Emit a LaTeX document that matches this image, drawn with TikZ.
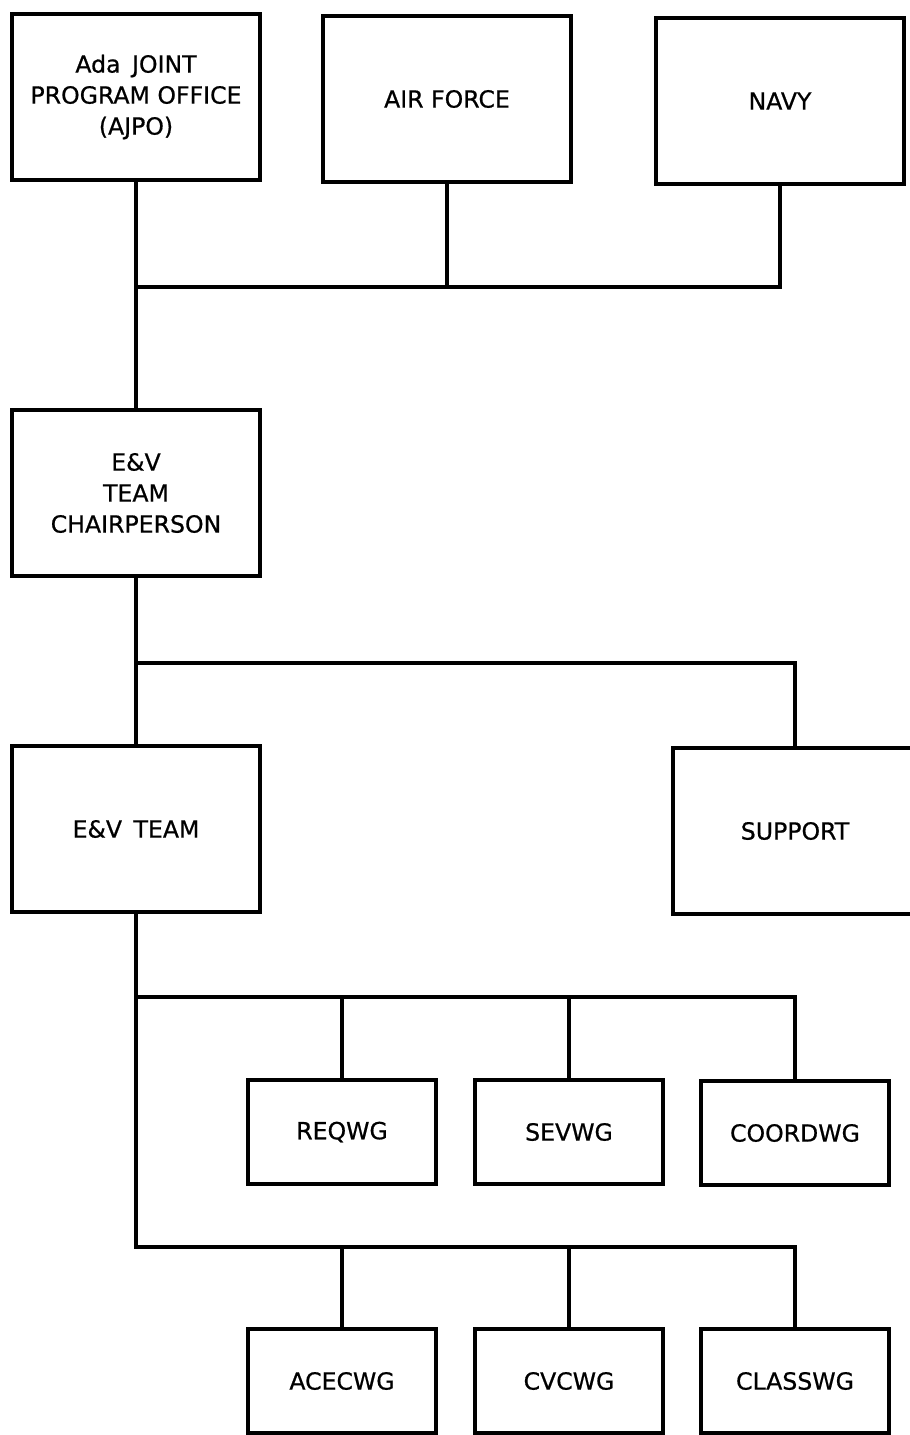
\documentclass[tikz,border=0pt]{standalone}
\usepackage{fontspec}
\setmainfont{DejaVu Sans}[FakeBold=0.7]

\begin{document}
\begin{tikzpicture}[x=0.5pt, y=-0.5pt,
    orgbox/.style={draw, line width=2.3pt, fill=white, align=center, inner sep=0pt,
      font=\fontsize{11.8}{15.5}\selectfont},
    bigbox/.style={orgbox, minimum width=124pt, minimum height=83pt},
    wgbox/.style={orgbox, minimum width=94pt, minimum height=52pt},
    link/.style={line width=1.6pt}]
  \useasboundingbox (0,0) rectangle (910,1435);
  \clip (0,0) rectangle (910,1435);

  % top row
  \node[bigbox] (ajpo) at (136,97) {Ada\hspace{2pt} JOINT\\PROGRAM OFFICE\\(AJPO)};
  \node[bigbox] (airforce) at (447,99) {AIR FORCE};
  \node[bigbox] (navy) at (780,101) {NAVY};

  \node[bigbox] (chair) at (136,493) {E\&V\\TEAM\\CHAIRPERSON};
  \node[bigbox] (evteam) at (136,829) {E\&V\hspace{2pt} TEAM};
  \node[bigbox, minimum width=122pt] (support) at (795,831) {SUPPORT};

  % working groups
  \node[wgbox] (reqwg) at (342,1132) {REQWG};
  \node[wgbox] (sevwg) at (569,1132) {SEVWG};
  \node[wgbox] (coordwg) at (795,1133) {COORDWG};
  \node[wgbox] (acecwg) at (342,1381) {ACECWG};
  \node[wgbox] (cvcwg) at (569,1381) {CVCWG};
  \node[wgbox] (classwg) at (795,1381) {CLASSWG};

  \coordinate (bus1) at (136,287);
  \coordinate (bus2) at (136,663);
  \coordinate (bus3) at (136,997);
  \coordinate (bus4) at (136,1247);

  \draw[link] (ajpo.south) -- (chair.north);
  \draw[link] (navy.south) |- (bus1);
  \draw[link] (airforce.south) -- (airforce.south |- bus1);
  \draw[link] (chair.south) -- (evteam.north);
  \draw[link] (bus2) -| (support.north);
  \draw[link] (evteam.south) -- (bus4) -| (classwg.north);
  \draw[link] (bus3) -| (coordwg.north);
  \foreach \wg in {reqwg,sevwg}
    \draw[link] (\wg.north) -- (\wg.north |- bus3);
  \foreach \wg in {acecwg,cvcwg}
    \draw[link] (\wg.north) -- (\wg.north |- bus4);
\end{tikzpicture}
\end{document}
